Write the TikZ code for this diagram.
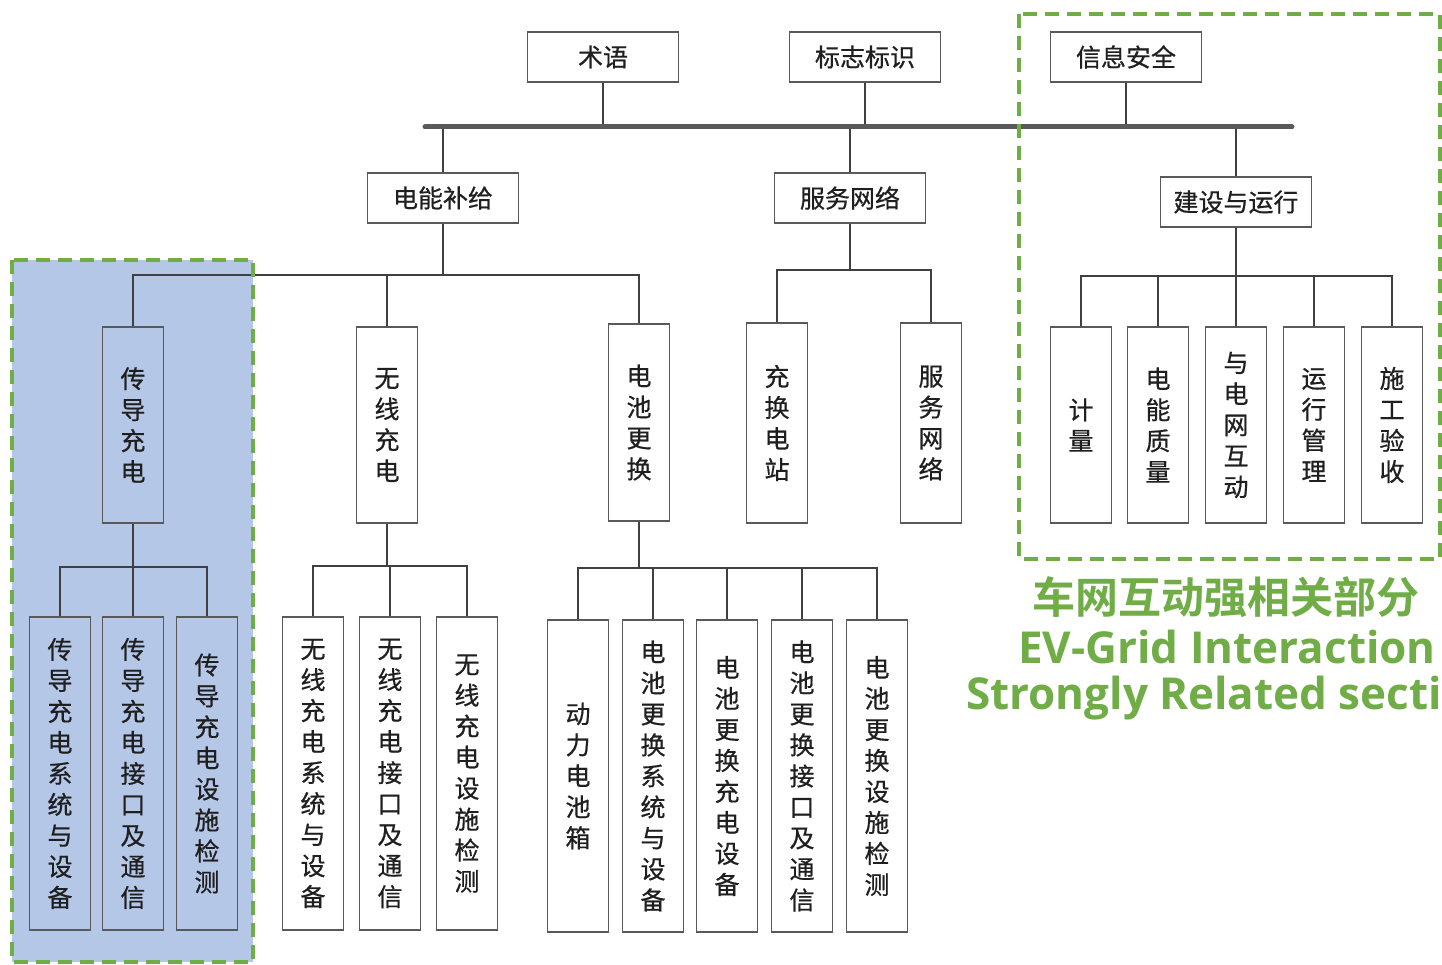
\documentclass[tikz,border=0pt]{standalone}
\usepackage{fontspec}
\setmainfont{Open Sans}
\newfontfamily\cjk{Noto Sans CJK SC}[FakeBold=0.6]
\newfontfamily\cjkb{Noto Sans CJK SC}[BoldFont={Noto Sans CJK SC Bold}]
\newfontfamily\enb{Open Sans}
\definecolor{boxc}{HTML}{595959}
\definecolor{linec}{HTML}{404040}
\definecolor{busc}{HTML}{5A5A5A}
\definecolor{txt}{HTML}{1F1F1F}
\definecolor{grn}{HTML}{70AD47}
\definecolor{zonefill}{HTML}{B4C7E7}
\tikzset{
  box/.style={draw=boxc, line width=1.3pt, font=\cjk\fontsize{25}{31}\selectfont, text=txt, align=center, inner sep=0pt},
  hbox/.style={box, minimum width=151pt, minimum height=50pt},
  vbox/.style={box, minimum width=61pt},
  conn/.style={draw=linec, line width=1.8pt},
  bus/.style={draw=busc, line width=5pt, line cap=round},
  zone/.style={draw=grn, line width=4.5pt, dash pattern=on 14pt off 8pt},
  gtext/.style={text=grn, inner sep=0pt}
}
\begin{document}
\begin{tikzpicture}[x=1pt,y=-1pt]
\useasboundingbox (0,0) rectangle (1442,965);
\clip (0,0) rectangle (1442,965);
\fill[white] (0,0) rectangle (1442,965);
\fill[zonefill] (12,260) rectangle (253,962);

% top level
\node[hbox] (t1) at (603,57) {术语};
\node[hbox] (t2) at (865,57) {标志标识};
\node[hbox] (t3) at (1126,57) {信息安全};
\node[hbox] (m1) at (443,198) {电能补给};
\node[hbox] (m2) at (850,198) {服务网络};
\node[hbox] (m3) at (1236,202) {建设与运行};

% second level
\node[vbox, minimum height=196pt] (a1) at (133,425) {传\\导\\充\\电};
\node[vbox, minimum height=196pt] (a2) at (387,425) {无\\线\\充\\电};
\node[vbox, minimum height=197pt] (a3) at (639,422.5) {电\\池\\更\\换};
\node[vbox, minimum height=200pt] (b1) at (777,423) {充\\换\\电\\站};
\node[vbox, minimum height=200pt] (b2) at (931,423) {服\\务\\网\\络};
\node[vbox, minimum height=196pt] (c1) at (1081,425) {计\\量};
\node[vbox, minimum height=196pt] (c2) at (1158,425) {电\\能\\质\\量};
\node[vbox, minimum height=196pt] (c3) at (1236,425) {与\\电\\网\\互\\动};
\node[vbox, minimum height=196pt] (c4) at (1314,425) {运\\行\\管\\理};
\node[vbox, minimum height=196pt] (c5) at (1392,425) {施\\工\\验\\收};

% third level
\node[vbox, minimum height=313pt] (a11) at (60,773.5) {传\\导\\充\\电\\系\\统\\与\\设\\备};
\node[vbox, minimum height=313pt] (a12) at (133,773.5) {传\\导\\充\\电\\接\\口\\及\\通\\信};
\node[vbox, minimum height=313pt] (a13) at (207,773.5) {传\\导\\充\\电\\设\\施\\检\\测};
\node[vbox, minimum height=313pt] (a21) at (313,773.5) {无\\线\\充\\电\\系\\统\\与\\设\\备};
\node[vbox, minimum height=313pt] (a22) at (390,773.5) {无\\线\\充\\电\\接\\口\\及\\通\\信};
\node[vbox, minimum height=313pt] (a23) at (467,773.5) {无\\线\\充\\电\\设\\施\\检\\测};
\node[vbox, minimum height=312pt] (a31) at (578,776) {动\\力\\电\\池\\箱};
\node[vbox, minimum height=312pt] (a32) at (653,776) {电\\池\\更\\换\\系\\统\\与\\设\\备};
\node[vbox, minimum height=312pt] (a33) at (727,776) {电\\池\\更\\换\\充\\电\\设\\备};
\node[vbox, minimum height=312pt] (a34) at (802,776) {电\\池\\更\\换\\接\\口\\及\\通\\信};
\node[vbox, minimum height=312pt] (a35) at (877,776) {电\\池\\更\\换\\设\\施\\检\\测};

% fork levels
\coordinate (busL) at (425,127);
\coordinate (busR) at (1292,127);
\coordinate (fa) at (0,275);
\coordinate (fb) at (0,270);
\coordinate (fc) at (0,276);
\coordinate (fa1) at (0,567);
\coordinate (fa2) at (0,566);
\coordinate (fa3) at (0,568);

% connectors
\foreach \n in {t1,t2,t3} \draw[conn] (\n.south) -- (\n.south |- busL);
\foreach \n in {m1,m2,m3} \draw[conn] (\n.north) -- (\n.north |- busL);
\draw[bus] (busL) -- (busR);

\draw[conn] (m1.south) -- (m1.south |- fa);
\draw[conn] (a1.north) |- (a3.north |- fa) -- (a3.north);
\draw[conn] (a2.north) -- (a2.north |- fa);

\draw[conn] (m2.south) -- (m2.south |- fb);
\draw[conn] (b1.north) |- (b2.north |- fb) -- (b2.north);

\draw[conn] (m3.south) -- (m3.south |- fc);
\draw[conn] (c1.north) |- (c5.north |- fc) -- (c5.north);
\foreach \n in {c2,c3,c4} \draw[conn] (\n.north) -- (\n.north |- fc);

\draw[conn] (a1.south) -- (a1.south |- fa1);
\draw[conn] (a11.north) |- (a13.north |- fa1) -- (a13.north);
\draw[conn] (a12.north) -- (a12.north |- fa1);

\draw[conn] (a2.south) -- (a2.south |- fa2);
\draw[conn] (a21.north) |- (a23.north |- fa2) -- (a23.north);
\draw[conn] (a22.north) -- (a22.north |- fa2);

\draw[conn] (a3.south) -- (a3.south |- fa3);
\draw[conn] (a31.north) |- (a35.north |- fa3) -- (a35.north);
\foreach \n in {a32,a33,a34} \draw[conn] (\n.north) -- (\n.north |- fa3);

% highlight zones
\draw[zone] (12,260) rectangle (253,962);
\draw[zone] (1019,14) rectangle (1440,559);

% caption
\node[gtext, font=\cjkb\bfseries\fontsize{43}{48}\selectfont] (g1) at (1226,597) {车网互动强相关部分};
\node[gtext, font=\enb\bfseries\fontsize{44}{50}\selectfont] (g2) at (1227,647) {EV-Grid Interaction};
\node[gtext, font=\enb\bfseries\fontsize{44}{50}\selectfont, anchor=west] (g3) at (966,698) {Strongly Related section};
\end{tikzpicture}
\end{document}
